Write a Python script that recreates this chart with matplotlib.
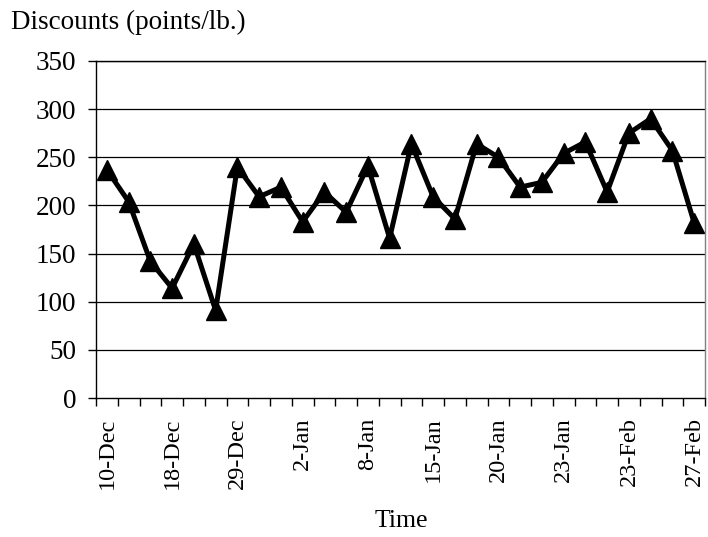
import matplotlib
matplotlib.use("Agg")
import matplotlib.pyplot as plt
import numpy as np

values = [237, 204, 142, 114, 160, 91, 240, 209, 219, 183, 214, 193, 241, 166,
          264, 209, 186, 264, 250, 219, 224, 254, 266, 214, 275, 290, 257, 182]
label_positions = [0, 3, 6, 9, 12, 15, 18, 21, 24, 27]
tick_labels = ["10-Dec", "18-Dec", "29-Dec", "2-Jan", "8-Jan", "15-Jan",
               "20-Jan", "23-Jan", "23-Feb", "27-Feb"]
y_ticks = [0, 50, 100, 150, 200, 250, 300, 350]

plt.rcParams['font.family'] = ['Liberation Serif', 'DejaVu Serif']

fig = plt.figure(figsize=(7.08, 5.37), dpi=100)
ax = fig.add_axes([96/708, 1 - 398/537, (705 - 96)/708, (398 - 61)/537])

x = np.arange(len(values))
ax.plot(x, values, color='black', linewidth=3.6, marker='^', markersize=15,
        markerfacecolor='black', markeredgecolor='black', zorder=3, clip_on=False)

ax.set_xlim(-0.5, len(values) - 0.5)
ax.set_ylim(0, 350)
ax.set_yticks(y_ticks)
ax.set_yticklabels([str(v) for v in y_ticks], fontsize=19.5)
for v in y_ticks[1:]:
    ax.axhline(v, color='black', linewidth=0.9, zorder=1)

ax.set_xticks(np.arange(-0.5, len(values), 1.0))
ax.set_xticklabels([])
ax.set_xticks(label_positions, minor=True)
ax.set_xticklabels(tick_labels, minor=True, rotation=90, fontsize=17.5)
ax.tick_params(axis='x', which='major', length=5.5, width=1, direction='out')
ax.tick_params(axis='x', which='minor', length=0, pad=14)
ax.tick_params(axis='y', length=6, width=1, direction='out', pad=8)

ax.spines['left'].set_color('black')
ax.spines['bottom'].set_color('black')
ax.spines['top'].set_color('black')
ax.spines['right'].set_color('#808080')
for s in ax.spines.values():
    s.set_linewidth(1)

fig.text(11/708, 1 - 29/537, "Discounts (points/lb.)", fontsize=19.5, ha='left', va='baseline')
fig.text(401/708, 1 - 527/537, "Time", fontsize=18.5, ha='center', va='baseline')

fig.savefig("out.png", dpi=100)
